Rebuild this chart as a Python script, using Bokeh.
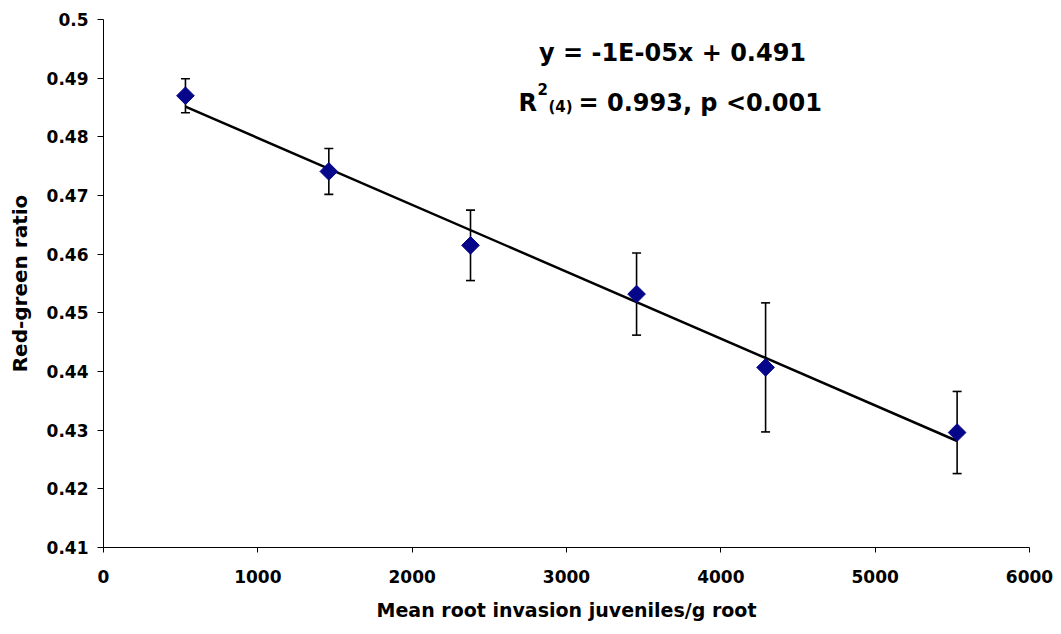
import numpy as np
from bokeh.plotting import figure
from bokeh.models import Range1d, FixedTicker, Whisker, ColumnDataSource, Label, TeeHead
from bokeh.embed import file_html
from bokeh.resources import INLINE

# Mean root invasion (juveniles per g root) vs. mean red-green ratio, with error bars
invasion = [531, 1460, 2378, 3454, 4290, 5531]
ratio = [0.4870, 0.4741, 0.4615, 0.4532, 0.4407, 0.4296]
ratio_err = [0.0029, 0.0039, 0.0060, 0.0070, 0.0110, 0.0070]

x_ticks = [0, 1000, 2000, 3000, 4000, 5000, 6000]
y_ticks = [0.41, 0.42, 0.43, 0.44, 0.45, 0.46, 0.47, 0.48, 0.49, 0.50]
y_tick_labels = ["0.41", "0.42", "0.43", "0.44", "0.45", "0.46", "0.47", "0.48", "0.49", "0.5"]

equation_text = "y = -1E-05x + 0.491"
r2_text = "R"
r2_sup = "2"
r2_sub = "(4)"
r2_rest = " = 0.993, p <0.001"

FONT = "DejaVu Sans"
W, H = 1061, 634
LEFT, RIGHT, TOP, BOTTOM = 103, 32, 19, 87
X0, X1 = 0, 6000
Y0, Y1 = 0.41, 0.50

p = figure(width=W, height=H, output_backend="svg", toolbar_location=None,
           x_range=Range1d(X0, X1), y_range=Range1d(Y0, Y1),
           min_border_left=LEFT, min_border_right=RIGHT,
           min_border_top=TOP, min_border_bottom=BOTTOM)
p.outline_line_color = None
p.xgrid.visible = False
p.ygrid.visible = False
p.background_fill_color = "white"
p.border_fill_color = "white"

for ax in (p.xaxis[0], p.yaxis[0]):
    ax.axis_line_color = "black"
    ax.axis_line_width = 1
    ax.major_tick_line_color = "black"
    ax.major_tick_in = 0
    ax.minor_tick_line_color = None
    ax.major_label_text_font = FONT
    ax.major_label_text_font_style = "bold"
    ax.major_label_text_font_size = "17px"
    ax.major_label_text_color = "black"
    ax.axis_label_text_font = FONT
    ax.axis_label_text_font_style = "bold"
    ax.axis_label_text_color = "black"

p.xaxis.ticker = FixedTicker(ticks=x_ticks)
p.xaxis.major_tick_out = 5
p.xaxis.major_label_standoff = 17
p.xaxis.axis_label = "Mean root invasion juveniles/g root"
p.xaxis.axis_label_text_font_size = "19px"
p.xaxis.axis_label_standoff = 13

p.yaxis.ticker = FixedTicker(ticks=y_ticks)
p.yaxis.major_label_overrides = {t: s for t, s in zip(y_ticks, y_tick_labels)}
p.yaxis.major_tick_out = 6
p.yaxis.major_label_standoff = 9
p.yaxis.axis_label = "Red-green ratio"
p.yaxis.axis_label_text_font_size = "20px"
p.yaxis.axis_label_standoff = 12

# least-squares regression line spanning the observed range
slope, intercept = np.polyfit(invasion, ratio, 1)
fit_x = [min(invasion), max(invasion)]
fit_y = [slope * v + intercept for v in fit_x]
p.line(fit_x, fit_y, line_color="black", line_width=2.5)

src = ColumnDataSource(dict(
    x=invasion, y=ratio,
    lo=[r - e for r, e in zip(ratio, ratio_err)],
    hi=[r + e for r, e in zip(ratio, ratio_err)],
))
whisk = Whisker(source=src, base="x", lower="lo", upper="hi",
                line_color="black", line_width=1.6,
                lower_head=TeeHead(size=9, line_color="black", line_width=1.6),
                upper_head=TeeHead(size=9, line_color="black", line_width=1.6))
p.add_layout(whisk)

p.scatter("x", "y", source=src, marker="square", angle=np.pi / 4, size=12.5,
          fill_color="#06068a", line_color="#06068a")

# equation annotation, placed by canvas pixel position
fw = W - LEFT - RIGHT
fh = H - TOP - BOTTOM
def at(px, py):
    return (X0 + (px - LEFT) / fw * (X1 - X0), Y1 - (py - TOP) / fh * (Y1 - Y0))

def add_text(txt, px, py, size, align="left"):
    x, y = at(px, py)
    p.add_layout(Label(x=x, y=y, text=txt, text_font=FONT, text_font_style="bold",
                       text_font_size=size, text_color="black",
                       text_align=align, text_baseline="alphabetic"))

add_text(equation_text, 672, 52, "24px", "center")
add_text(r2_text, 518, 102, "24px")
add_text(r2_sup, 537, 88, "15px")
add_text(r2_sub, 548, 106, "15px")
add_text(r2_rest, 578, 102, "24px")

open("out.html", "w").write(file_html(p, INLINE))
